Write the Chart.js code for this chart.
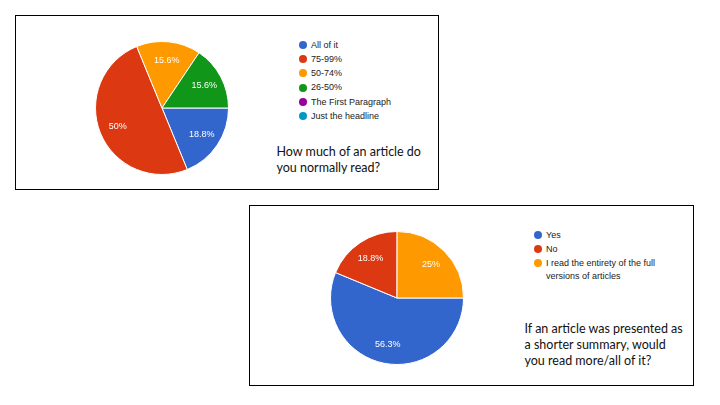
<!DOCTYPE html>
<html>
<head>
<meta charset="utf-8">
<script src="https://cdn.jsdelivr.net/npm/chart.js@4"></script>
<style>
  html, body { margin: 0; padding: 0; background: #fff; }
  body { width: 720px; height: 405px; position: relative; overflow: hidden; }
  .panel { position: absolute; border: 1px solid #000; box-sizing: border-box; }
  canvas.pie { position: absolute; }
  .legend { position: absolute; font-family: "Liberation Sans", Arial, sans-serif; font-size: 9px; color: #222; }
  .legend .item { position: relative; padding-left: 12.5px; line-height: 12.5px; margin-bottom: 1.8px; }
  .legend .dot { position: absolute; left: 0; top: 2.3px; width: 8px; height: 8px; border-radius: 50%; }
  .question { position: absolute; font-family: Lato, "Open Sans", sans-serif; font-size: 12.5px; line-height: 16.2px; color: #111; white-space: nowrap; }
</style>
</head>
<body>
<div class="panel" style="left:15px;top:15px;width:424px;height:175px;"></div>
<div class="panel" style="left:249px;top:205px;width:445px;height:181px;"></div>

<canvas id="pie1" class="pie" width="134" height="134" style="left:94.7px;top:40.7px;"></canvas>
<canvas id="pie2" class="pie" width="134" height="134" style="left:329.7px;top:230.7px;"></canvas>

<div id="legend1" class="legend" style="left:298.5px;top:38.5px;width:130px;"></div>
<div id="legend2" class="legend" style="left:533.5px;top:228.5px;width:128px;"></div>

<div id="q1" class="question" style="left:276.5px;top:143.5px;"></div>
<div id="q2" class="question" style="left:524.5px;top:321px;"></div>

<script>
// ---- data ----
const q1Labels = ['All of it', '75-99%', '50-74%', '26-50%', 'The First Paragraph', 'Just the headline'];
const q1Values = [18.8, 50, 15.6, 15.6, 0, 0];
const q1Question = ['How much of an article do', 'you normally read?'];

const q2Labels = ['Yes', 'No', 'I read the entirety of the full versions of articles'];
const q2Values = [56.3, 18.8, 25];
const q2Question = ['If an article was presented as', 'a shorter summary, would', 'you read more/all of it?'];

const palette = ['#3366cc', '#dc3912', '#ff9900', '#109618', '#990099', '#0099c6'];

// ---- slice label plugin ----
const sliceLabels = {
  id: 'sliceLabels',
  afterDatasetsDraw(chart) {
    const ctx = chart.ctx;
    const meta = chart.getDatasetMeta(0);
    const values = chart.data.datasets[0].data;
    ctx.save();
    ctx.fillStyle = '#ffffff';
    ctx.font = '9px "Liberation Sans", Arial, sans-serif';
    ctx.textAlign = 'center';
    ctx.textBaseline = 'middle';
    meta.data.forEach((arc, i) => {
      if (!values[i]) return;
      const p = arc.getProps(['x', 'y', 'startAngle', 'endAngle', 'outerRadius'], true);
      const mid = (p.startAngle + p.endAngle) / 2;
      const r = p.outerRadius * 0.72;
      ctx.fillText(values[i] + '%', p.x + Math.cos(mid) * r, p.y + Math.sin(mid) * r);
    });
    ctx.restore();
  }
};

function makePie(id, labels, values) {
  return new Chart(document.getElementById(id), {
    type: 'pie',
    data: {
      labels: labels,
      datasets: [{
        data: values,
        backgroundColor: palette.slice(0, values.length),
        borderColor: '#ffffff',
        borderWidth: 1,
        hoverOffset: 0
      }]
    },
    options: {
      responsive: false,
      animation: false,
      rotation: 90,
      layout: { padding: 0 },
      events: [],
      plugins: { legend: { display: false }, tooltip: { enabled: false } }
    },
    plugins: [sliceLabels]
  });
}

function makeLegend(id, labels) {
  const el = document.getElementById(id);
  labels.forEach((lab, i) => {
    const item = document.createElement('div');
    item.className = 'item';
    const dot = document.createElement('span');
    dot.className = 'dot';
    dot.style.background = palette[i];
    item.appendChild(dot);
    item.appendChild(document.createTextNode(lab));
    el.appendChild(item);
  });
}

function makeQuestion(id, lines) {
  const el = document.getElementById(id);
  lines.forEach((l, i) => {
    if (i) el.appendChild(document.createElement('br'));
    el.appendChild(document.createTextNode(l));
  });
}

makePie('pie1', q1Labels, q1Values);
makePie('pie2', q2Labels, q2Values);
makeLegend('legend1', q1Labels);
makeLegend('legend2', q2Labels);
makeQuestion('q1', q1Question);
makeQuestion('q2', q2Question);
</script>
</body>
</html>
